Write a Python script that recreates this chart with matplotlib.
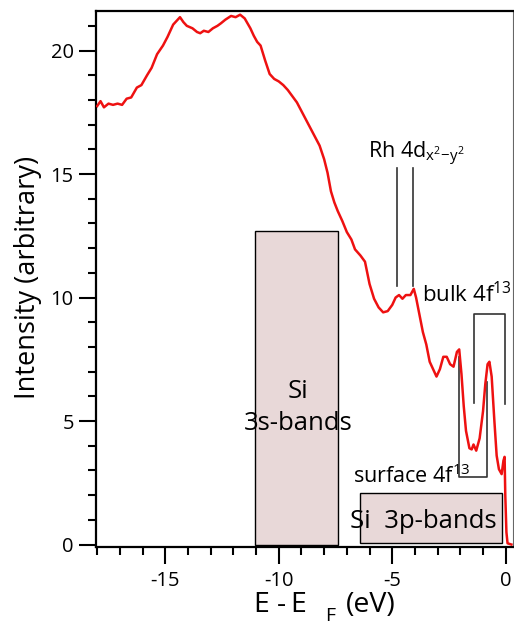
import matplotlib
matplotlib.use('Agg')
import matplotlib.pyplot as plt
from matplotlib.patches import Rectangle
from matplotlib.ticker import MultipleLocator

plt.rcParams['font.family'] = ['Open Sans', 'DejaVu Sans']
plt.rcParams['axes.unicode_minus'] = False
plt.rcParams['mathtext.fontset'] = 'custom'
plt.rcParams['mathtext.rm'] = 'Open Sans'
plt.rcParams['mathtext.it'] = 'Open Sans'

# Photoemission spectrum
energy = [-18.0, -17.85, -17.7, -17.5, -17.3, -17.1, -16.9, -16.7, -16.5, -16.25,
          -16.05, -15.8, -15.6, -15.36, -15.1, -14.9, -14.65, -14.5, -14.35, -14.2,
          -14.05, -13.8, -13.6, -13.46, -13.3, -13.1, -12.9, -12.7, -12.55, -12.35,
          -12.1, -11.9, -11.7, -11.5, -11.25, -11.1, -10.95, -10.8, -10.6, -10.4,
          -10.2, -10.0, -9.8, -9.6, -9.4, -9.2, -9.0, -8.8, -8.6, -8.4,
          -8.2, -8.0, -7.85, -7.7, -7.55, -7.4, -7.2, -7.0, -6.8, -6.64,
          -6.4, -6.2, -6.0, -5.8, -5.6, -5.4, -5.2, -5.0, -4.85, -4.7,
          -4.55, -4.4, -4.2, -4.05, -3.95, -3.8, -3.65, -3.5, -3.35, -3.2,
          -3.05, -2.9, -2.75, -2.6, -2.45, -2.3, -2.15, -2.05, -1.95, -1.85,
          -1.75, -1.6, -1.5, -1.42, -1.3, -1.15, -1.0, -0.9, -0.8, -0.72,
          -0.62, -0.5, -0.4, -0.3, -0.18, -0.1, -0.05, -0.02, 0.03, 0.08, 0.25]
intensity = [17.75, 17.95, 17.7, 17.85, 17.8, 17.85, 17.8, 18.05, 18.1, 18.5,
             18.6, 19.0, 19.3, 19.85, 20.2, 20.55, 21.05, 21.2, 21.35, 21.15,
             21.0, 20.9, 20.75, 20.7, 20.8, 20.75, 20.9, 21.0, 21.1, 21.25,
             21.4, 21.35, 21.45, 21.3, 20.9, 20.6, 20.35, 20.2, 19.6, 19.05,
             18.85, 18.75, 18.6, 18.4, 18.15, 17.9, 17.55, 17.2, 16.85, 16.5,
             16.15, 15.6, 15.05, 14.3, 13.85, 13.5, 13.1, 12.65, 12.35, 11.95,
             11.7, 11.45, 10.55, 9.95, 9.6, 9.4, 9.45, 9.7, 10.0, 10.1,
             9.95, 10.1, 10.1, 10.35, 10.0, 9.3, 8.6, 8.1, 7.4, 7.1,
             6.8, 7.1, 7.6, 7.6, 7.3, 7.2, 7.8, 7.9, 6.9, 5.6,
             4.6, 3.9, 3.85, 4.05, 3.8, 4.3, 5.4, 6.5, 7.3, 7.4,
             6.8, 5.0, 3.6, 3.05, 2.85, 3.4, 3.55, 2.0, 0.5, 0.05, 0.0]

# Band regions: (x0, x1, y0, y1)
band_3s = (-11.03, -7.40, 0.0, 12.68)
band_3p = (-6.42, -0.18, 0.07, 2.09)

# Feature markers
rh_lines = [-4.77, -4.07]
rh_span = (10.45, 15.25)
surface_x = [-2.04, -2.04, -0.84, -0.84]
surface_y = [7.6, 2.75, 2.75, 6.6]
bulk_x = [-1.39, -1.39, -0.03, -0.03]
bulk_y = [5.75, 9.35, 9.35, 5.67]

fig = plt.figure(figsize=(5.14, 6.26), dpi=100)
ax = fig.add_axes([96 / 514, 1 - 547 / 626, 417 / 514, 536 / 626])

for (x0, x1, y0, y1) in [band_3s, band_3p]:
    ax.add_patch(Rectangle((x0, y0), x1 - x0, y1 - y0, facecolor='#e8d8d8',
                           edgecolor='black', linewidth=1.0, zorder=1))

ax.plot(energy, intensity, color='#ee1111', linewidth=1.8, zorder=3)

for xv in rh_lines:
    ax.plot([xv, xv], rh_span, color='#333333', linewidth=1.2, zorder=2)
ax.plot(surface_x, surface_y, color='#333333', linewidth=1.2, zorder=2)
ax.plot(bulk_x, bulk_y, color='#333333', linewidth=1.2, zorder=2)

ax.text(-9.15, 5.55, 'Si\n3s-bands', ha='center', va='center', fontsize=18.5,
        linespacing=1.4, zorder=4)
ax.text(-6.86, 0.95, 'Si  3p-bands', ha='left', va='center', fontsize=18.5, zorder=4)
ax.text(-6.73, 2.75, r'surface 4f$^{\mathrm{13}}$', ha='left', va='center',
        fontsize=15.5, zorder=4)
ax.text(-3.7, 10.1, r'bulk 4f$^{\mathrm{13}}$', ha='left', va='center',
        fontsize=16, zorder=4)
ax.text(-6.06, 15.8, r'Rh 4d$_{\mathrm{x^{2}\!-\!y^{2}}}$', ha='left', va='center',
        fontsize=15.5, zorder=4)

ax.set_xlim(-18.05, 0.32)
ax.set_ylim(-0.1, 21.6)
ax.xaxis.set_major_locator(MultipleLocator(5))
ax.xaxis.set_minor_locator(MultipleLocator(1))
ax.yaxis.set_major_locator(MultipleLocator(5))
ax.yaxis.set_minor_locator(MultipleLocator(1))
ax.tick_params(which='major', direction='out', length=12, width=1.5,
               labelsize=14.5, pad=4)
ax.tick_params(which='minor', direction='out', length=6, width=1.5)
ax.tick_params(axis='x', which='major', pad=5)
for side in ['left', 'bottom', 'top']:
    ax.spines[side].set_linewidth(1.6)
ax.spines['right'].set_linewidth(0.8)
ax.spines['right'].set_color('#666666')

fig.text(28 / 514, 0.557, 'Intensity (arbitrary)', rotation=90, ha='center',
         va='center', fontsize=19.5)
fig.text(253 / 514, 1 - 605 / 626, 'E', ha='left', va='center', fontsize=20.5)
fig.text(281.5 / 514, 1 - 605 / 626, '-', ha='center', va='center', fontsize=20.5)
fig.text(290 / 514, 1 - 605 / 626, 'E', ha='left', va='center', fontsize=20.5)
fig.text(325 / 514, 1 - 625 / 626, 'F', ha='left', va='bottom', fontsize=14)
fig.text(346 / 514, 1 - 605 / 626, '(eV)', ha='left', va='center', fontsize=20.5)

fig.savefig('out.png', dpi=100)
